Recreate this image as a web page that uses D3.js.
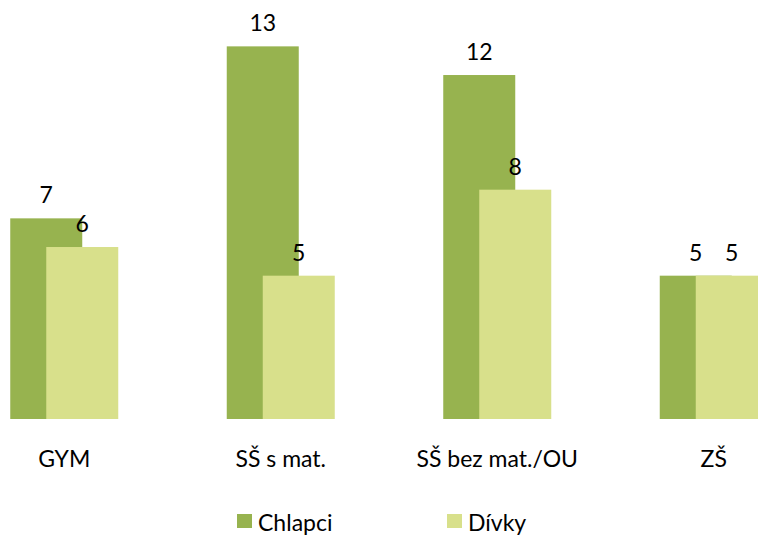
<!DOCTYPE html>
<html>
<head>
<meta charset="utf-8">
<script src="https://cdn.jsdelivr.net/npm/d3@7"></script>
<style>
  html, body { margin: 0; padding: 0; background: #ffffff; }
  svg { display: block; }
  text { font-family: Lato, "Open Sans", "Noto Sans", sans-serif; fill: #000; }
</style>
</head>
<body>
<script>
// Školy a počty žáků podle pohlaví
const categories = ["GYM", "SŠ s mat.", "SŠ bez mat./OU", "ZŠ"];
const chlapci = [7, 13, 12, 5];
const divky = [6, 5, 8, 5];
const seriesNames = ["Chlapci", "Dívky"];
const colors = ["#97b34f", "#d8e08b"];

const W = 758, H = 535;
const svg = d3.select("body").append("svg").attr("width", W).attr("height", H);

// Plot area is wider than the window; the last group runs off the right edge
const x = d3.scaleBand().domain(categories).range([-44, 822]).padding(0);
const y = d3.scaleLinear().domain([0, 14]).range([419, 17.7]);
const barW = 72;
const shift = 18; // overlapping bars: each bar is offset by a quarter width
const fs = 23;

const series = [chlapci, divky];
series.forEach((vals, si) => {
  const g = svg.append("g");
  const cx = c => x(c) + x.bandwidth() / 2 + (si === 0 ? -shift : shift);
  g.selectAll("rect").data(categories).join("rect")
    .attr("x", c => cx(c) - barW / 2)
    .attr("y", (c, i) => y(vals[i]))
    .attr("width", barW)
    .attr("height", (c, i) => y(0) - y(vals[i]))
    .attr("fill", colors[si]);
});

// Value labels drawn after both series so they stay on top
series.forEach((vals, si) => {
  const cx = c => x(c) + x.bandwidth() / 2 + (si === 0 ? -shift : shift);
  svg.append("g").selectAll("text").data(categories).join("text")
    .attr("x", c => cx(c))
    .attr("y", (c, i) => y(vals[i]) - 15)
    .attr("text-anchor", "middle")
    .attr("font-size", fs)
    .text((c, i) => vals[i]);
});

// Category labels
svg.append("g").selectAll("text").data(categories).join("text")
  .attr("x", c => x(c) + x.bandwidth() / 2)
  .attr("y", 467)
  .attr("text-anchor", "middle")
  .attr("font-size", fs)
  .text(c => c);

// Legend
const legendX = [237, 447];
const lg = svg.append("g").selectAll("g").data(seriesNames).join("g")
  .attr("transform", (d, i) => `translate(${legendX[i]},514)`);
lg.append("rect").attr("width", 15).attr("height", 14).attr("fill", (d, i) => colors[i]);
lg.append("text").attr("x", 21).attr("y", 17).attr("font-size", fs).text(d => d);
</script>
</body>
</html>
